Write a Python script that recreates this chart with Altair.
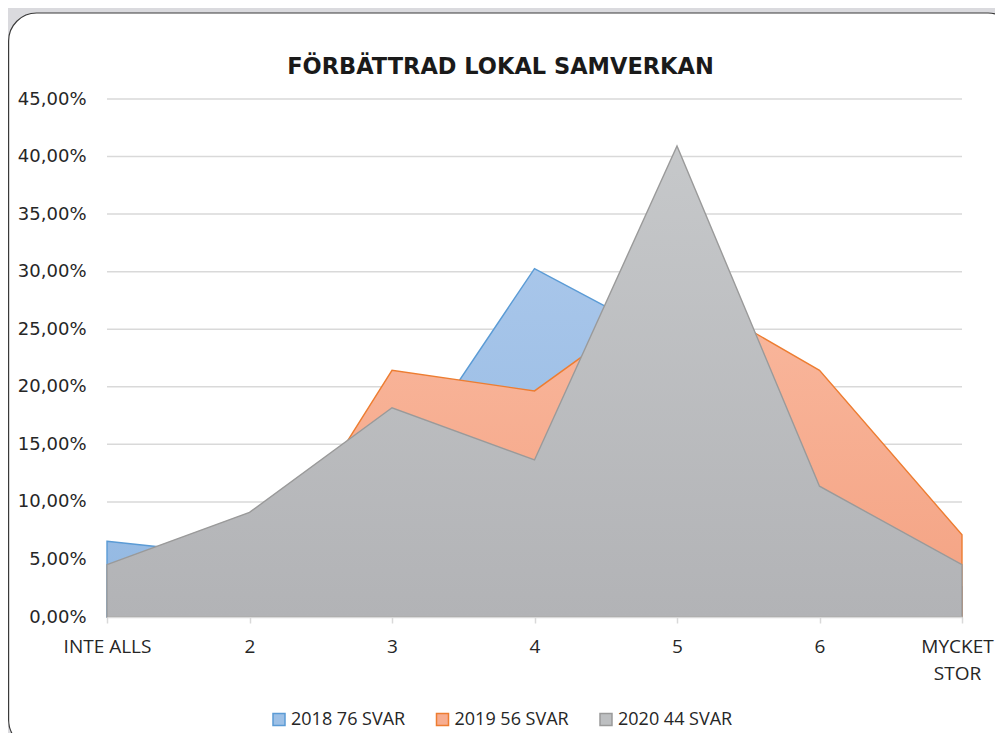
import altair as alt
import pandas as pd

categories = ["INTE ALLS", "2", "3", "4", "5", "6", "MYCKET STOR"]
series_names = ["2018 76 SVAR", "2019 56 SVAR", "2020 44 SVAR"]
v2018 = [6.58, 5.26, 11.84, 30.26, 23.68, 7.89, 2.63]
v2019 = [0.0, 1.79, 21.43, 19.64, 28.57, 21.43, 7.14]
v2020 = [4.55, 9.09, 18.18, 13.64, 40.91, 11.36, 4.55]
y_ticks = [0.0, 0.05, 0.10, 0.15, 0.20, 0.25, 0.30, 0.35, 0.40, 0.45]

fill_top = ["#a8c6ea", "#f9b89e", "#c6c8ca"]
fill_bottom = ["#92b8e2", "#f4a282", "#b2b3b6"]
legend_fill = ["#9dc0e6", "#f7ad90", "#bdbfc1"]
stroke_cols = ["#5b9bd5", "#ed7d31", "#9a9a9a"]

FONT = "Open Sans"
FONT_Y = "DejaVu Sans"
TEXT = "#262626"

rows = []
for name, vals in zip(series_names, [v2018, v2019, v2020]):
    for c, v in zip(categories, vals):
        rows.append({"kategori": c, "serie": name, "andel": v / 100})
df = pd.DataFrame(rows)

yscale = alt.Scale(domain=[0, 0.45], nice=False, zero=True)

x_axis = alt.Axis(
    title=None,
    labelAngle=0,
    labelFont=FONT,
    labelFontSize=19,
    labelColor=TEXT,
    labelExpr="datum.value == 'MYCKET STOR' ? ['MYCKET', 'STOR'] : datum.label",
    labelLineHeight=27,
    labelPadding=14,
    labelOffset={"condition": {"test": "datum.value == 'MYCKET STOR'", "value": -5}, "value": 0},
    tickSize=6,
    tickColor="#d9d9d9",
    tickWidth=1.5,
    domainColor="#d9d9d9",
    domainWidth=1.5,
    grid=False,
    zindex=1,
)
y_axis = alt.Axis(
    title=None,
    values=y_ticks,
    labelExpr="replace(format(datum.value, '.2%'), '.', ',')",
    labelFont=FONT_Y,
    labelFontSize=18,
    labelColor=TEXT,
    labelPadding=21,
    ticks=False,
    domain=False,
    grid=False,
    zindex=1,
)

x_enc = alt.X("kategori:N", sort=categories, scale=alt.Scale(type="point", padding=0), axis=x_axis)
y_enc = alt.Y("andel:Q", scale=yscale, axis=y_axis)

panel = alt.Chart(pd.DataFrame({"p": [0]})).mark_rect(
    fill="white", stroke="#3a3a3a", strokeWidth=1.2, cornerRadius=28
).encode(
    x=alt.value(-98.4), x2=alt.value(909), y=alt.value(-86), y2=alt.value(649)
)

grid = alt.Chart(pd.DataFrame({"andel": y_ticks})).mark_rule(
    color="#d9d9d9", strokeWidth=1.5
).encode(y=y_enc)

areas = []
for i, name in enumerate(series_names):
    grad = {
        "gradient": "linear",
        "x1": 0, "y1": 0, "x2": 0, "y2": 1,
        "stops": [
            {"offset": 0, "color": fill_top[i]},
            {"offset": 1, "color": fill_bottom[i]},
        ],
    }
    areas.append(
        alt.Chart(df)
        .transform_filter(alt.datum.serie == name)
        .mark_area(fill=grad, stroke=stroke_cols[i], strokeWidth=1.4, interpolate="linear")
        .encode(x=x_enc, y=y_enc)
    )

leg = alt.Legend(
    title=None,
    orient="none",
    legendX=163,
    legendY=611.5,
    direction="horizontal",
    symbolType="square",
    symbolSize=144,
    symbolStrokeWidth=1.5,
    symbolOpacity=1,
    labelFont=FONT,
    labelFontSize=18,
    labelColor=TEXT,
    labelOffset=3,
    columnPadding=27.5,
    padding=0,
)

legend_layer = alt.Chart(df).mark_square(opacity=0, size=10).encode(
    x=x_enc,
    y=y_enc,
    fill=alt.Fill("serie:N", scale=alt.Scale(domain=series_names, range=legend_fill), legend=leg),
    stroke=alt.Stroke("serie:N", scale=alt.Scale(domain=series_names, range=stroke_cols), legend=leg),
)

chart = alt.layer(panel, grid, *areas, legend_layer).properties(
    width=855,
    height=518,
    padding={"left": 99, "top": 91, "right": 33, "bottom": 116},
    autosize=alt.AutoSizeParams(type="none"),
    background="#dadade",
    title=alt.TitleParams(
        "FÖRBÄTTRAD LOKAL SAMVERKAN",
        font=FONT_Y,
        fontSize=22.5,
        fontWeight="bold",
        color="#1a1a1a",
        anchor="middle",
        baseline="alphabetic",
        dx=-34,
        offset=-84.5,
    ),
).configure_view(stroke=None)

chart.save("out.html", embed_options={"renderer": "svg", "actions": False})
